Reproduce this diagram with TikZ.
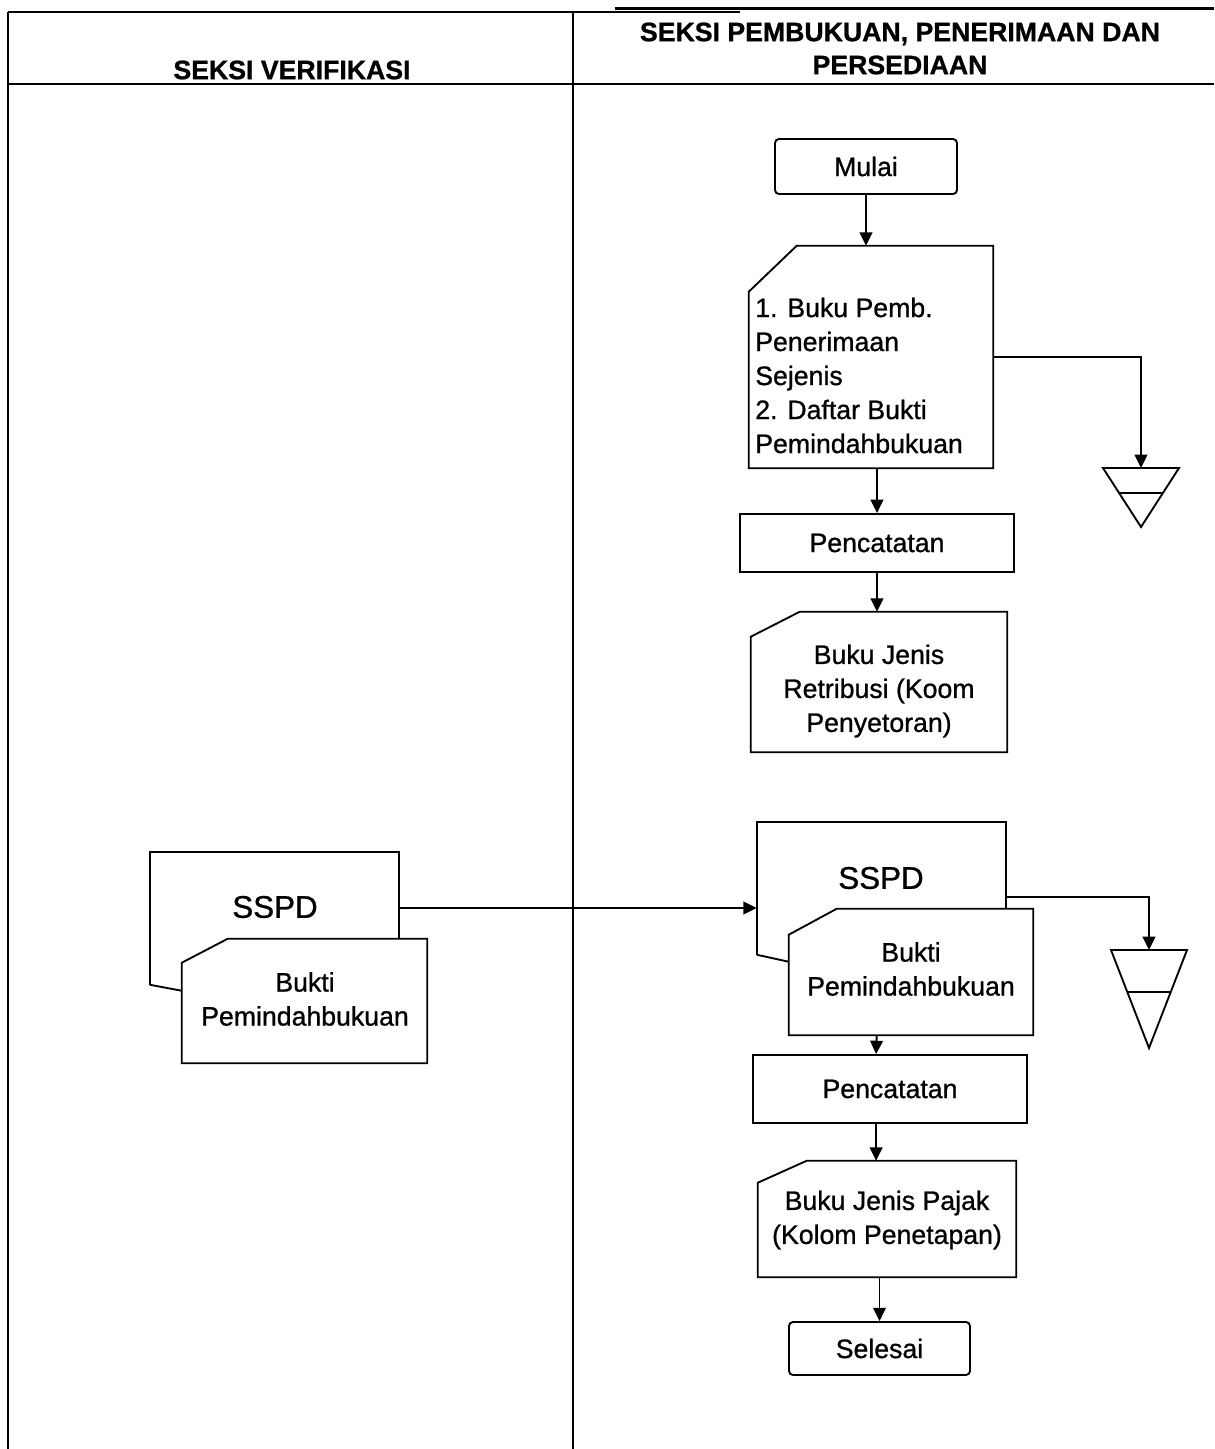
\documentclass[tikz,border=0pt]{standalone}
\usepackage{fontspec}
\setmainfont[FakeBold=0.9]{Liberation Sans}
\usetikzlibrary{arrows.meta,calc}
% one drawing unit = one pixel of the 1214 x 1449 page
\newcommand\pxu[1]{#1*0.75pt}
% outline of a document sheet with a cut top-left corner
\newcommand\docsheet[3]{%
  \draw[outline, fill=white] ($(#1.north west)+(0,#3)$) -- ($(#1.north west)+(#2,0)$)
    -- (#1.north east) -- (#1.south east) -- (#1.south west) -- cycle;}
\begin{document}
\begin{tikzpicture}[x=0.75pt,y=-0.75pt,
  outline/.style={line width=1.4pt},
  procbox/.style={draw, line width=1.4pt, rectangle, inner sep=0pt,
    font=\fontsize{20}{25.5}\selectfont},
  termbox/.style={procbox, rounded corners=3pt},
  frame/.style={draw=none, rectangle, inner sep=0pt},
  body/.style={font=\fontsize{20}{25.5}\selectfont, inner sep=0pt},
  big/.style={font=\fontsize{23.5}{28}\selectfont, inner sep=0pt},
  head/.style={font=\bfseries\fontsize{20}{24.75}\selectfont, inner sep=0pt, align=center},
  flow/.style={line width=1.4pt, -{Triangle[length=10pt,width=9.5pt]}},
  lane/.style={line width=1.1pt},
]
\useasboundingbox (0,0) rectangle (1214,1449);

% ---------- swimlane table ----------
\draw[lane, line width=1.4pt] (8,12) -- (740,12);
\draw[lane, line width=1.6pt] (615,8.5) -- (1107,8.5);
\draw[lane, line width=2pt] (1107,8.5) -- (1214,8.5);
\draw[lane, line width=1.6pt] (8,84) -- (1214,84);
\draw[lane] (8,12) -- (8,1449);
\draw[lane] (573,12) -- (573,1449);
\node[head] (hverif) at (292,70) {SEKSI VERIFIKASI};
\node[head] (hbuku) at (900,48.5) {SEKSI PEMBUKUAN, PENERIMAAN DAN\\PERSEDIAAN};

% ---------- right lane, upper flow ----------
\node[termbox, minimum width=\pxu{182}, minimum height=\pxu{55}] (mulai) at (866,166.5) {Mulai};

\node[frame, minimum width=\pxu{244}, minimum height=\pxu{222}] (doc1) at (871,357) {};
\docsheet{doc1}{48}{46}
\node[body, align=left, anchor=west] (doc1txt) at (755,375.5)
  {1. Buku Pemb.\\Penerimaan\\Sejenis\\2. Daftar Bukti\\Pemindahbukuan};

\node[procbox, minimum width=\pxu{274}, minimum height=\pxu{58}] (pc1) at (877,543) {Pencatatan};

\node[frame, minimum width=\pxu{256}, minimum height=\pxu{140}] (doc2) at (879,682) {};
\docsheet{doc2}{49}{25}
\node[body, align=center] (doc2txt) at (879,691) {Buku Jenis\\Retribusi (Koom\\Penyetoran)};

% file symbol for the upper flow
\coordinate (tri1) at (1141,468);
\draw[outline] (tri1) ++(-38,0) -- ++(76,0) -- ++(-38,59) -- cycle;
\draw[outline] ($(tri1)+(-22,25)$) -- ($(tri1)+(22,25)$);

\draw[flow] (mulai.south) -- (mulai.south |- doc1.north);
\draw[flow] (doc1.east) -| (tri1);
\draw[flow] (doc1.south -| pc1) -- (pc1.north);
\draw[flow] (pc1.south) -- (pc1.south |- doc2.north);

% ---------- left lane: SSPD with transfer slip ----------
\node[frame, minimum width=\pxu{249}, minimum height=\pxu{112}] (backL) at (274.5,908) {};
\draw[outline] ($(backL.north west)+(0,133)$) -- (backL.north west) -- (backL.north east)
  -- ($(backL.north east)+(0,87)$);
\draw[outline] ($(backL.north west)+(0,133)$) -- ($(backL.north west)+(32,139)$);
\node[big] (sspdL) at (275,907) {SSPD};
\node[frame, minimum width=\pxu{245}, minimum height=\pxu{124}] (frontL) at (304.5,1001) {};
\docsheet{frontL}{46}{24}
\node[body, align=center] (frontLtxt) at (305,999) {Bukti\\Pemindahbukuan};

% ---------- right lane, lower flow ----------
\node[frame, minimum width=\pxu{249}, minimum height=\pxu{172}] (backR) at (881.5,908) {};
\draw[outline] ($(backR.north west)+(0,133)$) -- (backR.north west) -- (backR.north east)
  -- ($(backR.north east)+(0,88)$);
\draw[outline] ($(backR.north west)+(0,133)$) -- ($(backR.north west)+(32,140)$);
\node[big] (sspdR) at (881,878) {SSPD};
\node[frame, minimum width=\pxu{244}, minimum height=\pxu{126}] (frontR) at (911,972) {};
\docsheet{frontR}{48}{26}
\node[body, align=center] (frontRtxt) at (911,969) {Bukti\\Pemindahbukuan};

\node[procbox, minimum width=\pxu{274}, minimum height=\pxu{68}] (pc2) at (890,1089) {Pencatatan};

\node[frame, minimum width=\pxu{258}, minimum height=\pxu{116}] (doc3) at (887,1219) {};
\docsheet{doc3}{49}{22}
\node[body, align=center] (doc3txt) at (887,1220) {Buku Jenis Pajak\\(Kolom Penetapan)};

\node[termbox, minimum width=\pxu{181}, minimum height=\pxu{53}] (selesai) at (879.5,1348.5) {Selesai};

% file symbol for the lower flow
\coordinate (tri2) at (1149,950);
\draw[outline] (tri2) ++(-38,0) -- ++(76,0) -- ++(-38,98) -- cycle;
\draw[outline] ($(tri2)+(-21,42)$) -- ($(tri2)+(21,42)$);

\draw[flow] (backL.east) -- (backR.west);
\draw[flow] ($(backR.north east)+(0,75)$) -| (tri2);
\draw[flow] ([xshift=\pxu{88}]frontR.south west) -- ([xshift=\pxu{124}]pc2.north west);
\draw[flow] ([xshift=\pxu{124}]pc2.south west) -- ([xshift=\pxu{124}]pc2.south west |- doc3.north);
\draw[flow] (selesai.north |- doc3.south) -- (selesai.north);
\end{tikzpicture}
\end{document}
